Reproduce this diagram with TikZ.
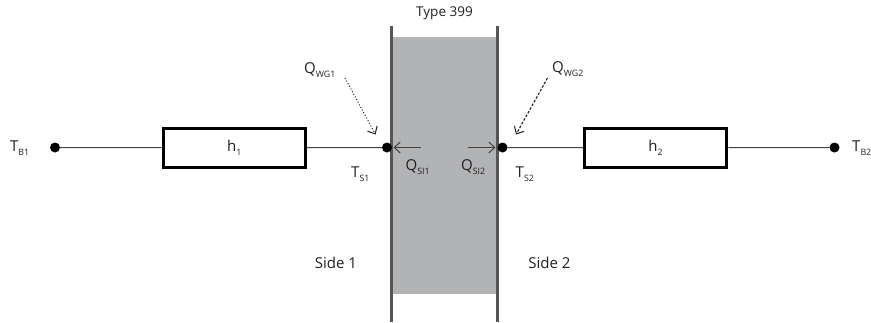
\documentclass[tikz,border=0pt]{standalone}
\usepackage{fontspec}
\setmainfont{Open Sans}
\usetikzlibrary{arrows.meta}
\definecolor{slab}{RGB}{178,179,181}
\definecolor{wall}{RGB}{85,85,87}
\definecolor{ink}{RGB}{35,31,32}
\newcommand\sbs[1]{\raisebox{-0.5ex}{\fontsize{8.8}{9}\selectfont #1}}
\tikzset{
  x=1pt,y=-1pt,
  lbl/.style={inner sep=0pt,text=ink,font=\fontsize{15}{17}\selectfont},
  dotn/.style={circle,fill=black,inner sep=0pt,minimum size=10pt},
  resbox/.style={draw=black,line width=3pt,fill=white,minimum width=142.5pt,minimum height=39pt,inner sep=0pt,text=ink,font=\fontsize{15}{17}\selectfont},
  wire/.style={draw=ink!85!white,line width=1pt},
  wallline/.style={draw=wall,line width=3pt},
  tip/.style={-{Straight Barb[length=6pt,width=11pt,line width=1pt]}},
}
\begin{document}
\begin{tikzpicture}
\useasboundingbox (0,0) rectangle (871,322);
\fill[slab] (391.5,37) rectangle (497.5,294);
\coordinate (w1t) at (391.5,26); \coordinate (w1b) at (391.5,322);
\coordinate (w2t) at (497.5,26); \coordinate (w2b) at (497.5,322);
\draw[wallline] (w1t) -- (w1b);
\draw[wallline] (w2t) -- (w2b);
\node[dotn] (tb1) at (55,147.5) {};
\node[dotn] (ts1) at (387,147.5) {};
\node[dotn] (ts2) at (502.5,147.5) {};
\node[dotn] (tb2) at (834.5,147.5) {};
\node[resbox] (h1) at (234.3,147.7) {h\sbs{1}};
\node[resbox] (h2) at (655.5,147.7) {h\sbs{2}};
\draw[wire] (tb1) -- (h1);
\draw[wire] (h1) -- (ts1);
\draw[wire] (ts2) -- (h2);
\draw[wire] (h2) -- (tb2);
\coordinate (qs1a) at (420.5,147.5); \coordinate (qs1b) at (393.5,147.5);
\coordinate (qs2a) at (468,147.5); \coordinate (qs2b) at (495.5,147.5);
\draw[wire,tip] (qs1a) -- (qs1b);
\draw[wire,tip] (qs2a) -- (qs2b);
\coordinate (qg1a) at (345,78); \coordinate (qg1b) at (375.5,134.5);
\coordinate (qg2a) at (547.5,78); \coordinate (qg2b) at (516,134.5);
\draw[draw=ink,line width=1pt,dotted,tip] (qg1a) -- (qg1b);
\draw[draw=ink,line width=1.1pt,dash pattern=on 2.6pt off 1.6pt,tip] (qg2a) -- (qg2b);
\node[lbl,font=\fontsize{13.5}{15}\selectfont] (type) at (444.5,13) {Type 399};
\node[lbl,anchor=west] (lb1) at (10,148) {T\sbs{B1}};
\node[lbl,anchor=west] (lb2) at (852,148) {T\sbs{B2}};
\node[lbl,anchor=west] (ls1) at (351,174) {T\sbs{S1}};
\node[lbl,anchor=west] (ls2) at (515.5,174) {T\sbs{S2}};
\node[lbl,anchor=west] (lq1) at (405.5,167) {Q\sbs{SI1}};
\node[lbl,anchor=west] (lq2) at (461,167) {Q\sbs{SI2}};
\node[lbl,anchor=west] (lg1) at (304,70) {Q\sbs{WG1}};
\node[lbl,anchor=west] (lg2) at (552,69) {Q\sbs{WG2}};
\node[lbl] (s1) at (336,263) {Side 1};
\node[lbl] (s2) at (549.5,263) {Side 2};
\end{tikzpicture}
\end{document}
